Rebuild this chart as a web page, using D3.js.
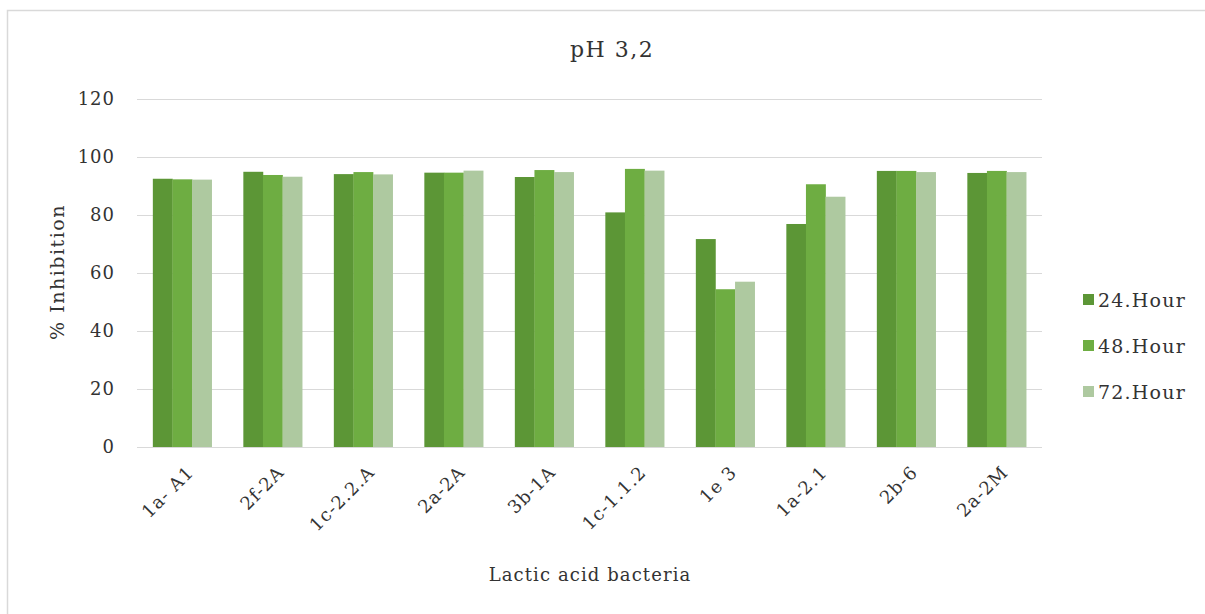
<!DOCTYPE html>
<html>
<head>
<meta charset="utf-8">
<script src="https://cdn.jsdelivr.net/npm/d3@7"></script>
<style>
  body { margin: 0; background: #fff; }
  text { font-family: "DejaVu Serif", "Liberation Serif", serif; fill: #333; }
</style>
</head>
<body>
<script>
// chart data
const categories = ["1a- A1", "2f-2A", "1c-2.2.A", "2a-2A", "3b-1A", "1c-1.1.2", "1e 3", "1a-2.1", "2b-6", "2a-2M"];
const seriesNames = ["24.Hour", "48.Hour", "72.Hour"];
const hour24 = [92.5, 94.9, 94.1, 94.6, 93.1, 80.9, 71.7, 76.9, 95.2, 94.5];
const hour48 = [92.3, 93.8, 94.8, 94.6, 95.5, 95.9, 54.4, 90.6, 95.2, 95.2];
const hour72 = [92.2, 93.2, 94.0, 95.3, 94.8, 95.3, 57.0, 86.3, 94.8, 94.8];
const yTicks = [0, 20, 40, 60, 80, 100, 120];

const colors = ["#5c9636", "#6ead42", "#aec9a0"];
const series = [hour24, hour48, hour72];
const FONT = "'DejaVu Serif', serif";

const W = 1205, H = 614;
const svg = d3.select("body").append("svg")
    .attr("width", W)
    .attr("height", H);

// frame (only top and left edges show in the picture)
svg.append("path")
    .attr("d", "M7.5,614 L7.5,10.5 L1205,10.5")
    .attr("fill", "none")
    .attr("stroke", "#d9d9d9")
    .attr("stroke-width", 1.5);

const x = d3.scaleBand()
    .domain(categories)
    .range([137, 1042])
    .paddingInner(0.35)
    .paddingOuter(0.175);

const xs = d3.scaleBand()
    .domain(seriesNames)
    .range([0, x.bandwidth()]);

const y = d3.scaleLinear()
    .domain([0, 120])
    .range([447, 99]);

// gridlines
svg.append("g")
    .selectAll("line")
    .data(yTicks)
    .enter()
    .append("line")
    .attr("x1", 137)
    .attr("x2", 1042)
    .attr("y1", d => Math.round(y(d)) + 0.5)
    .attr("y2", d => Math.round(y(d)) + 0.5)
    .attr("stroke", "#d9d9d9")
    .attr("stroke-width", 1);

// y axis labels
const yAxis = svg.append("g")
    .attr("transform", "translate(137,0)")
    .call(d3.axisLeft(y).tickValues(yTicks).tickSize(0).tickPadding(22));
yAxis.select(".domain").remove();
yAxis.selectAll("text")
    .style("font-family", FONT)
    .style("font-size", "18px")
    .style("letter-spacing", "1px")
    .attr("fill", "#333");

// bars
const groups = svg.append("g")
    .selectAll("g")
    .data(categories)
    .enter()
    .append("g")
    .attr("transform", d => "translate(" + x(d) + ",0)");

groups.selectAll("rect")
    .data((d, i) => series.map((s, k) => ({ name: seriesNames[k], value: s[i], k: k })))
    .enter()
    .append("rect")
    .attr("x", d => xs(d.name))
    .attr("width", xs.bandwidth() + 0.3)
    .attr("y", d => y(d.value))
    .attr("height", d => y(0) - y(d.value))
    .attr("fill", d => colors[d.k]);

// x labels, rotated
const xAxis = svg.append("g")
    .attr("transform", "translate(0,447)")
    .call(d3.axisBottom(x).tickSize(0).tickPadding(0));
xAxis.select(".domain").remove();
xAxis.selectAll("text")
    .style("font-family", FONT)
    .style("font-size", "18px")
    .style("letter-spacing", "1px")
    .attr("fill", "#333")
    .attr("text-anchor", "end")
    .attr("dy", "0.35em")
    .attr("transform", "translate(8,22) rotate(-45)");

// titles
svg.append("text")
    .attr("x", 612)
    .attr("y", 57)
    .attr("text-anchor", "middle")
    .style("font-size", "22px")
    .style("letter-spacing", "1.5px")
    .text("pH 3,2");

svg.append("text")
    .attr("transform", "translate(64,272) rotate(-90)")
    .attr("text-anchor", "middle")
    .style("font-size", "19px")
    .style("letter-spacing", "1.5px")
    .text("% Inhibition");

svg.append("text")
    .attr("x", 590)
    .attr("y", 581)
    .attr("text-anchor", "middle")
    .style("font-size", "18px")
    .style("letter-spacing", "1.1px")
    .text("Lactic acid bacteria");

// legend
const legend = svg.append("g")
    .selectAll("g")
    .data(seriesNames)
    .enter()
    .append("g")
    .attr("transform", (d, i) => "translate(1083," + (300 + i * 46) + ")");

legend.append("rect")
    .attr("x", 0)
    .attr("y", -6)
    .attr("width", 11)
    .attr("height", 11)
    .attr("fill", (d, i) => colors[i]);

legend.append("text")
    .attr("x", 15)
    .attr("y", 0)
    .attr("dy", "0.35em")
    .style("font-size", "19px")
    .style("letter-spacing", "1.2px")
    .text(d => d);
</script>
</body>
</html>
